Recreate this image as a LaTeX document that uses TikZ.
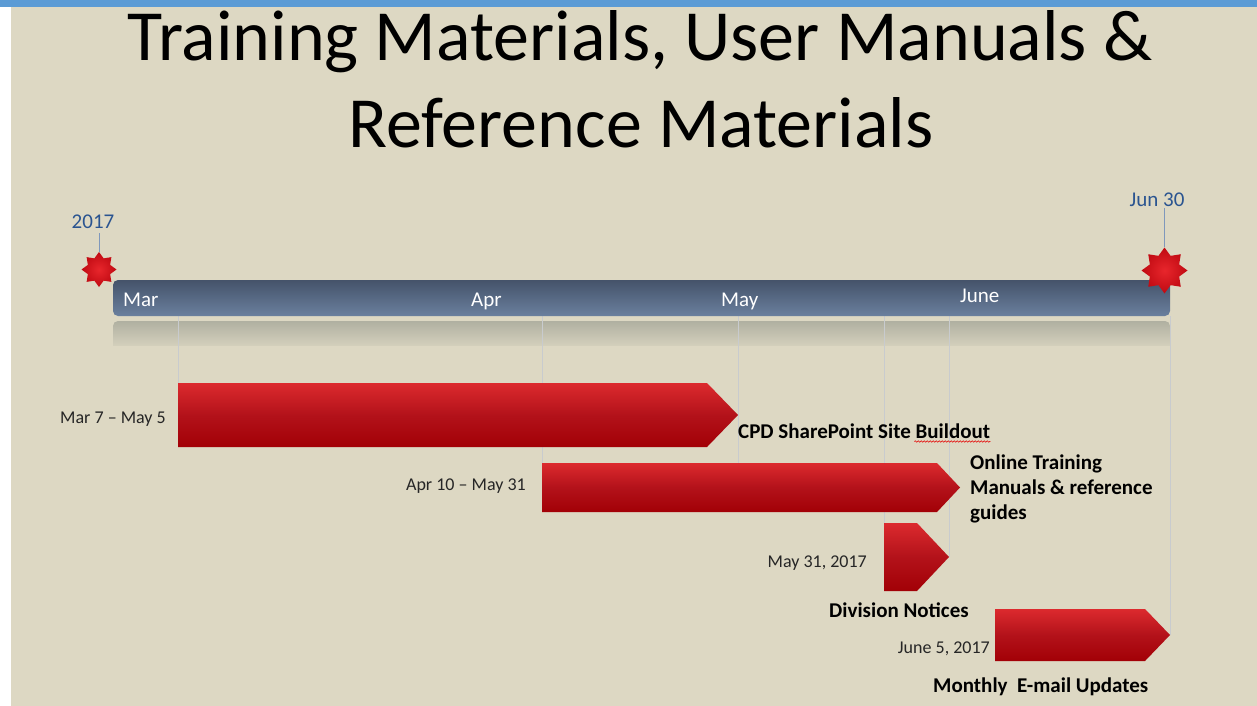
\documentclass[tikz,border=0pt]{standalone}
\usepackage{fontspec}
\setmainfont{Carlito}
\usetikzlibrary{shapes.geometric,decorations.pathmorphing}
\definecolor{bg}{HTML}{DDD8C3}
\definecolor{topblue}{HTML}{5B9BD5}
\definecolor{labblue}{HTML}{2A5490}
\definecolor{gridc}{HTML}{C8CBCE}
\definecolor{axtop}{HTML}{45536A}
\definecolor{axbot}{HTML}{6A809E}
\definecolor{redtop}{HTML}{DC2A2E}
\definecolor{redmid}{HTML}{B3121A}
\definecolor{redbot}{HTML}{A20006}
\definecolor{starin}{HTML}{E8262C}
\definecolor{starout}{HTML}{C00A12}
\definecolor{reflc}{HTML}{B0B0A1}
\tikzset{
  gridline/.style={draw=gridc, line width=1pt},
  task/.style={top color=redtop, bottom color=redbot, middle color=redmid},
  datelab/.style={font=\fontsize{18}{21}\selectfont, anchor=base east, inner sep=0pt, text=black!85},
  tasklab/.style={font=\fontsize{21}{25}\selectfont\bfseries, anchor=base west, inner sep=0pt, align=left},
  monthlab/.style={font=\fontsize{21}{25}\selectfont, text=white, anchor=base west, inner sep=0pt},
  milestone/.style={star, star points=8, star point ratio=1.45, inner sep=0pt, draw=none,
    shading=radial, inner color=starin, outer color=starout},
  mslab/.style={font=\fontsize{21}{25}\selectfont, text=labblue, anchor=base, inner sep=0pt},
  msline/.style={draw=labblue!60, line width=1pt},
  titlefont/.style={font=\fontsize{72}{86}\selectfont, anchor=base, inner sep=0pt},
}
\begin{document}
\begin{tikzpicture}[x=1pt,y=-1pt]
% background
\fill[white] (0,0) rectangle (1257,706);
\fill[bg] (11,7) rectangle (1257,706);
\fill[topblue] (0,0) rectangle (1257,7);
\useasboundingbox (0,0) rectangle (1257,706);

% title
\node[titlefont] (t1) at (640,61) {Training Materials, User Manuals \&};
\node[titlefont] (t2) at (641,147) {Reference Materials};

% reflection of the time axis
\shade[top color=reflc, bottom color=bg, rounded corners=5pt] (113,321) rectangle (1170,352);
\fill[bg] (113,346) rectangle (1170,353);

% grid lines
\draw[gridline] (178,316) -- (178,383);
\draw[gridline] (542,316) -- (542,463);
\draw[gridline] (738,316) -- (738,463);
\draw[gridline] (884,316) -- (884,523);
\draw[gridline] (949,316) -- (949,557);
\draw[gridline] (1170,316) -- (1170,635);

% time axis
\node[draw=none, top color=axtop, bottom color=axbot, rounded corners=5pt,
      minimum width=1057pt, minimum height=36pt, inner sep=0pt] (axis) at (641.5,298) {};
\node[monthlab] (mar) at (123,306) {Mar};
\node[monthlab] (apr) at (471,306) {Apr};
\node[monthlab] (may) at (721,306) {May};
\node[monthlab] (jun) at (960,302) {June};

% milestones
\node[mslab] (l2017) at (93,228) {2017};
\node[mslab] (ljun30) at (1157,206) {Jun 30};
\node[milestone, minimum size=35pt] (ms1) at (99,269.5) {};
\node[milestone, minimum size=46pt] (ms2) at (1164.5,270.5) {};
\draw[msline] (ms1.north) -- ([yshift=-5pt]ms1.north |- l2017.south);
\draw[msline] (ms2.north) -- ([yshift=-2pt]ms2.north |- ljun30.south);

% tasks
\shade[task] (178,383) -- (707,383) -- (738,415) -- (707,447) -- (178,447) -- cycle;
\shade[task] (542,463) -- (937,463) -- (960,487.5) -- (937,512) -- (542,512) -- cycle;
\shade[task] (884,523) -- (917,523) -- (949,557) -- (917,591) -- (884,591) -- cycle;
\shade[task] (995,609) -- (1145,609) -- (1170,635) -- (1145,661) -- (995,661) -- cycle;

% date labels
\node[datelab] (d1) at (166,423) {Mar 7 – May 5};
\node[datelab] (d2) at (526,490) {Apr 10 – May 31};
\node[datelab] (d3) at (867,567) {May 31, 2017};
\node[datelab] (d4) at (990,653) {June 5, 2017};

% task labels
\node[tasklab] (cpd) at (738,438) {CPD SharePoint Site Buildout};
\draw[red!90!black, line width=0.6pt, decorate, decoration={snake, amplitude=0.7pt, segment length=3pt}]
  ([xshift=-76pt,yshift=-3.5pt]cpd.base east) -- ([yshift=-3.5pt]cpd.base east);
\node[tasklab] (otm) at (970,519) {Online Training\\Manuals \& reference\\guides};
\node[tasklab] (div) at (829,617) {Division Notices};
\node[tasklab] (mon) at (933,692) {Monthly\ \ E-mail Updates};
\end{tikzpicture}
\end{document}
